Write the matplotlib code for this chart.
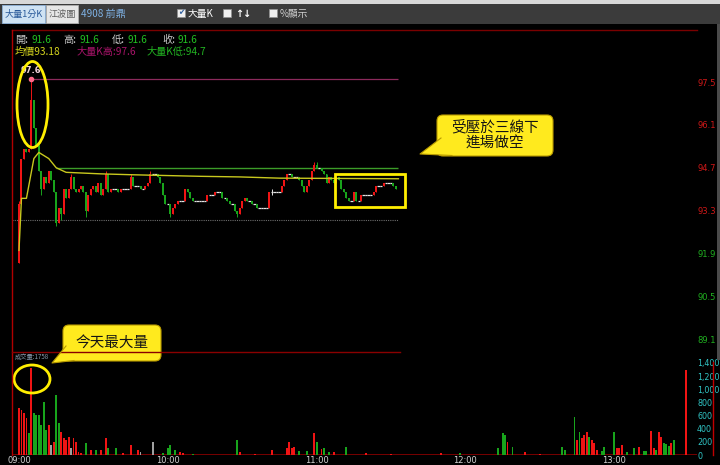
import matplotlib
matplotlib.use("Agg")
import matplotlib.pyplot as plt
from matplotlib.patches import Rectangle, Ellipse, FancyBboxPatch, Polygon

plt.rcParams['font.family'] = ['Noto Sans CJK TC', 'DejaVu Sans']

# ---- data (minute 0 = 09:00) ----
first_open = 91.6
closes = [
    93.5, 95.0, 95.3, 95.2, 95.3, 96.9, 96.0, 95.4, 94.6, 94.0,
    94.4, 94.2, 94.6, 94.3, 93.9, 92.9, 93.4, 93.2, 94.0, 93.7,
    94.0, 94.4, 94.0, 93.9, 94.0, 94.1, 93.9, 93.3, 93.8, 94.0,
    94.1, 93.9, 94.2, 93.8, 94.0, 94.5, 93.9, 94.0, 94.0, 94.0,
    93.9, 94.0, 94.0, 94.0, 94.0, 94.4, 94.1, 94.1, 94.1, 94.0,
    94.0, 94.1, 94.2, 94.5, 94.5, 94.5, 94.4, 94.2, 93.8, 93.5,
    93.5, 93.2, 93.4, 93.5, 93.6, 93.6, 93.6, 94.0, 93.9, 93.7,
    93.6, 93.6, 93.6, 93.6, 93.6, 93.6, 93.8, 93.8, 93.8, 93.9,
    93.9, 93.9, 93.7, 93.7, 93.6, 93.5, 93.5, 93.3, 93.2, 93.4,
    93.6, 93.7, 93.6, 93.6, 93.5, 93.5, 93.4, 93.4, 93.4, 93.4,
    93.4, 93.9, 93.9, 93.9, 93.9, 93.9, 94.1, 94.3, 94.5, 94.5,
    94.4, 94.4, 94.4, 94.3, 94.1, 93.9, 94.1, 94.3, 94.6, 94.8,
    94.7, 94.7, 94.6, 94.5, 94.2, 94.4, 94.3, 94.2, 94.4, 94.3,
    94.0, 93.9, 93.7, 93.6, 93.6, 93.9, 93.6, 93.6, 93.8, 93.8,
    93.8, 93.8, 93.8, 93.9, 94.1, 94.1, 94.1, 94.2, 94.2, 94.2,
    94.2, 94.1, 94.0,
]
wick_high_minutes = [0, 5, 8, 21, 35, 45, 53, 102, 119, 120]
wick_high_values = [93.6, 97.6, 95.5, 94.5, 94.6, 94.5, 94.6, 94.0, 94.9, 94.9]
wick_low_minutes = [0, 9, 15, 17, 27, 61, 88, 102]
wick_low_values = [91.6, 93.8, 92.8, 93.0, 93.1, 93.1, 93.1, 93.8]

avg_minutes = [0, 1, 3, 6, 8, 12, 15, 19, 33, 46, 73, 89, 105, 130, 153]
avg_values = [92.0, 93.7, 93.7, 95.0, 95.2, 95.0, 94.7, 94.55, 94.5, 94.47,
              94.42, 94.4, 94.36, 94.35, 94.34]

kbar_minute = 5
kbar_high = 97.6
kbar_low = 94.7
kbar_low_start = 15
ref_price = 93.0
lines_end = 153

# volume bars, same row breaks in all three lists
vol_minutes = [
    0, 1, 2, 3, 4, 5, 6, 7, 8, 9, 10, 11, 12, 13, 14, 15, 16, 17, 18, 19,
    20, 21, 22, 23, 24, 25, 27, 29, 31, 33, 35, 36, 39, 42, 45, 48, 49, 54,
    58, 60, 61, 63, 65, 66, 70, 88, 89, 95, 102, 108, 109, 110, 111, 113,
    116, 119, 120, 122, 123, 125, 127, 132, 140, 150, 170, 178, 193, 195,
    196, 197, 199, 204, 210, 219, 220, 224, 225, 226, 227, 228, 229, 230,
    231, 232, 233, 235, 236, 240, 241, 242, 243, 245, 248, 250, 252, 253,
    255, 256, 257, 258, 259, 260, 261, 262, 263, 264, 269,
]
vol_values = [
    714, 684, 638, 562, 334, 1322, 638, 608, 608, 456, 806, 380, 456, 152, 198, 912, 486, 350, 258, 228,
    274, 106, 258, 198, 46, 30, 182, 76, 76, 76, 258, 106, 106, 30, 152, 76, 40, 198,
    30, 106, 152, 76, 40, 30, 20, 228, 40, 20, 76, 106, 198, 106, 120, 60,
    60, 334, 198, 90, 106, 40, 40, 120, 30, 20, 30, 30, 106, 334,
    304, 198, 120, 40, 20, 120, 76, 578, 228, 350, 258, 304, 350, 274,
    228, 182, 76, 60, 120, 350, 106, 106, 152, 40, 106, 120, 60, 60,
    365, 106, 76, 350, 274, 182, 167, 137, 182, 228, 1292,
]
vol_colors = list(
    "rrrrgrggggggrwrggrrr"
    "rwrrrrgrgrrggrrrww"
    "ggggrrggrrrrrrrg"
    "grgrggrgrrrggg"
    "grgrrgggrgrrrg"
    "rrrgggrrrggrgg"
    "rrgrrgggrgr"
)

price_ticks = [97.5, 96.1, 94.7, 93.3, 91.9, 90.5, 89.1]
vol_ticks = [0, 200, 400, 600, 800, 1000, 1200, 1400]
vol_tick_labels = ["0", "200", "400", "600", "800", "1,000", "1,200", "1,400"]
time_ticks = [0, 60, 120, 180, 240]
time_labels = ["09:00", "10:00", "11:00", "12:00", "13:00"]

RED = "#f01414"
GREEN = "#18a41c"
WHITE = "#e4e4e4"
GRAY = "#a0a0a0"
col_map = {"r": RED, "g": GREEN, "w": GRAY}

fig = plt.figure(figsize=(7.2, 4.65), dpi=100, facecolor="black")

# price panel
ax = fig.add_axes([12 / 720, 113 / 465, 685 / 720, 322 / 465])
ax.set_facecolor("black")
ax.set_xlim(-2.82, 273.4)
ax.set_ylim(88.68, 99.2)
for s in ax.spines.values():
    s.set_visible(False)

hi_map = dict(zip(wick_high_minutes, wick_high_values))
lo_map = dict(zip(wick_low_minutes, wick_low_values))
for i, c in enumerate(closes):
    o = first_open if i == 0 else closes[i - 1]
    hi = hi_map.get(i, max(o, c))
    lo = lo_map.get(i, min(o, c))
    if c > o:
        col = RED
    elif c < o:
        col = GREEN
    else:
        col = WHITE
    if hi > lo:
        ax.vlines(i, lo, hi, color=col, lw=0.7, zorder=3)
    if c == o:
        ax.hlines(c, i - 0.5, i + 0.5, color=col, lw=0.9, zorder=3)
    else:
        ax.bar(i, c - o, bottom=o, width=0.8, color=col, lw=0, zorder=3)

ax.hlines(kbar_high, kbar_minute, lines_end, color="#8c2a5c", lw=0.9, zorder=2)
ax.hlines(kbar_low, kbar_low_start, lines_end, color="#3c9c28", lw=1.0, zorder=2)
ax.hlines(ref_price, -2.82, lines_end, color="#6c6c6c", lw=0.8,
          linestyles=(0, (1, 1)), zorder=1)
ax.plot(avg_minutes, avg_values, color="#c8c81e", lw=1.0, zorder=4)
ax.plot(kbar_minute, kbar_high, "o", ms=3, color="#ff6a8a", zorder=5)
ax.text(kbar_minute, kbar_high + 0.12, "97.6", ha="center", va="bottom",
        color="#f2d2da", fontsize=6, fontweight="bold", family="DejaVu Sans")

ax.set_xticks([])
ax.yaxis.tick_right()
ax.set_yticks(price_ticks)
ax.set_yticklabels([f"{p:.1f}" for p in price_ticks], family="DejaVu Sans")
ax.tick_params(axis="y", length=0, pad=0, labelsize=6)
for lab, p in zip(ax.get_yticklabels(), price_ticks):
    lab.set_color("#d01818" if p > ref_price else "#20b020")

# volume panel
av = fig.add_axes([12 / 720, 10 / 465, 685 / 720, 103 / 465])
av.set_facecolor("none")
av.set_xlim(-2.82, 273.4)
av.set_ylim(0, 1567)
for s in av.spines.values():
    s.set_visible(False)
av.bar(vol_minutes, vol_values, width=0.75, lw=0,
       color=[col_map[c] for c in vol_colors], zorder=3)
av.axhline(0, color="#780000", lw=1.4, zorder=2)
av.yaxis.tick_right()
av.set_yticks(vol_ticks)
av.set_yticklabels(vol_tick_labels, family="DejaVu Sans")
av.set_xticks(time_ticks)
av.set_xticklabels(time_labels, family="DejaVu Sans")
av.tick_params(axis="y", length=0, pad=0, labelsize=5.8, labelcolor="#30c4c4")
av.tick_params(axis="x", length=0, pad=1, labelsize=6, labelcolor="#d4d4d4")

# overlay in screen pixels: toolbar, frame, notes
ov = fig.add_axes([0, 0, 1, 1], zorder=10)
ov.set_xlim(0, 720)
ov.set_ylim(465, 0)
ov.axis("off")
ov.patch.set_alpha(0)

ov.add_patch(Rectangle((0, 0), 720, 4, fc="#d8d8d8", lw=0))
ov.add_patch(Rectangle((0, 4), 720, 20, fc="#3b3b3b", lw=0))
ov.add_patch(Rectangle((2, 5), 43, 18, fc="#cfe2f3", ec="#8fb3d9", lw=0.6))
ov.text(23.5, 14, "大量1分K", ha="center", va="center", color="#2a5a9a", fontsize=6.6)
ov.add_patch(Rectangle((46, 5), 32, 18, fc="#e6e6e6", ec="#b0b0b0", lw=0.6))
ov.text(62, 14, "江波圖", ha="center", va="center", color="#606060", fontsize=6.6)
ov.text(81, 14, "4908 前鼎", ha="left", va="center", color="#7fb2e5", fontsize=7.2)
ov.add_patch(Rectangle((177, 9), 8, 8, fc="#f0f0f0", ec="#909090", lw=0.5))
ov.text(181, 13, "✔", ha="center", va="center", color="#3060a0", fontsize=5.5,
        family="DejaVu Sans")
ov.text(188, 14, "大量K", ha="left", va="center", color="white", fontsize=7)
ov.add_patch(Rectangle((223, 9), 8, 8, fc="#f0f0f0", ec="#909090", lw=0.5))
ov.text(235, 14, "↑↓", ha="left", va="center", color="white", fontsize=7,
        fontweight="bold", family="DejaVu Sans")
ov.add_patch(Rectangle((269, 9), 8, 8, fc="#f0f0f0", ec="#909090", lw=0.5))
ov.text(280, 14, "%顯示", ha="left", va="center", color="#d0d0d0", fontsize=7)
ov.add_patch(Rectangle((717, 24), 3, 336, fc="#4a4a4a", lw=0))

# frame lines
ov.plot([12, 697], [30, 30], color="#7a0000", lw=1)
ov.plot([12, 12], [30, 455], color="#b00000", lw=1)
ov.plot([12, 400], [352, 352], color="#8a0000", lw=1)
ov.plot([713, 713], [362, 455], color="#c00000", lw=1)

# quote lines
row1 = [(15, "開:", "#c8c8c8"), (32, "91.6", "#22c022"),
        (63, "高:", "#c8c8c8"), (80, "91.6", "#22c022"),
        (112, "低:", "#c8c8c8"), (128, "91.6", "#22c022"),
        (162, "收:", "#c8c8c8"), (178, "91.6", "#22c022")]
for x, t, c in row1:
    ov.text(x, 40, t, ha="left", va="center", color=c, fontsize=7.3)
row2 = [(15, "均價93.18", "#d4d41e"), (77, "大量K高:97.6", "#a8146a"),
        (147, "大量K低:94.7", "#22b422")]
for x, t, c in row2:
    ov.text(x, 52, t, ha="left", va="center", color=c, fontsize=7.3)
ov.text(15, 357, "成交量:1758", ha="left", va="center", color="#8899aa", fontsize=4.5)

# highlights
YEL = "#ffee00"
ov.add_patch(Ellipse((32.5, 104.5), 31, 86, fill=False, ec=YEL, lw=2))
ov.add_patch(Ellipse((32, 379), 36, 28, fill=False, ec=YEL, lw=2))
ov.add_patch(Rectangle((335, 174), 70, 33, fill=False, ec=YEL, lw=2))

# callouts
BOX = "#ffea1e"
EDGE = "#b89a00"


def callout(x, y, w, h, tail, text):
    ov.add_patch(FancyBboxPatch((x, y), w, h, boxstyle="round,pad=0,rounding_size=6",
                                fc=BOX, ec=EDGE, lw=0.8))
    ov.add_patch(Polygon(tail, closed=True, fc=BOX, ec="none"))
    ov.plot([tail[0][0], tail[1][0], tail[2][0]], [tail[0][1], tail[1][1], tail[2][1]],
            color=EDGE, lw=0.8)
    ov.text(x + w / 2, y + h / 2, text, ha="center", va="center", color="#141414",
            fontsize=10.5, linespacing=1.15)


callout(437, 115, 116, 41, [(441, 138), (420, 154), (452, 155.5)], "受壓於三線下\n進場做空")
callout(63, 325, 98, 36, [(66, 346), (52, 363), (74, 360.5)], "今天最大量")

fig.savefig("out.png", dpi=100, facecolor="black")
